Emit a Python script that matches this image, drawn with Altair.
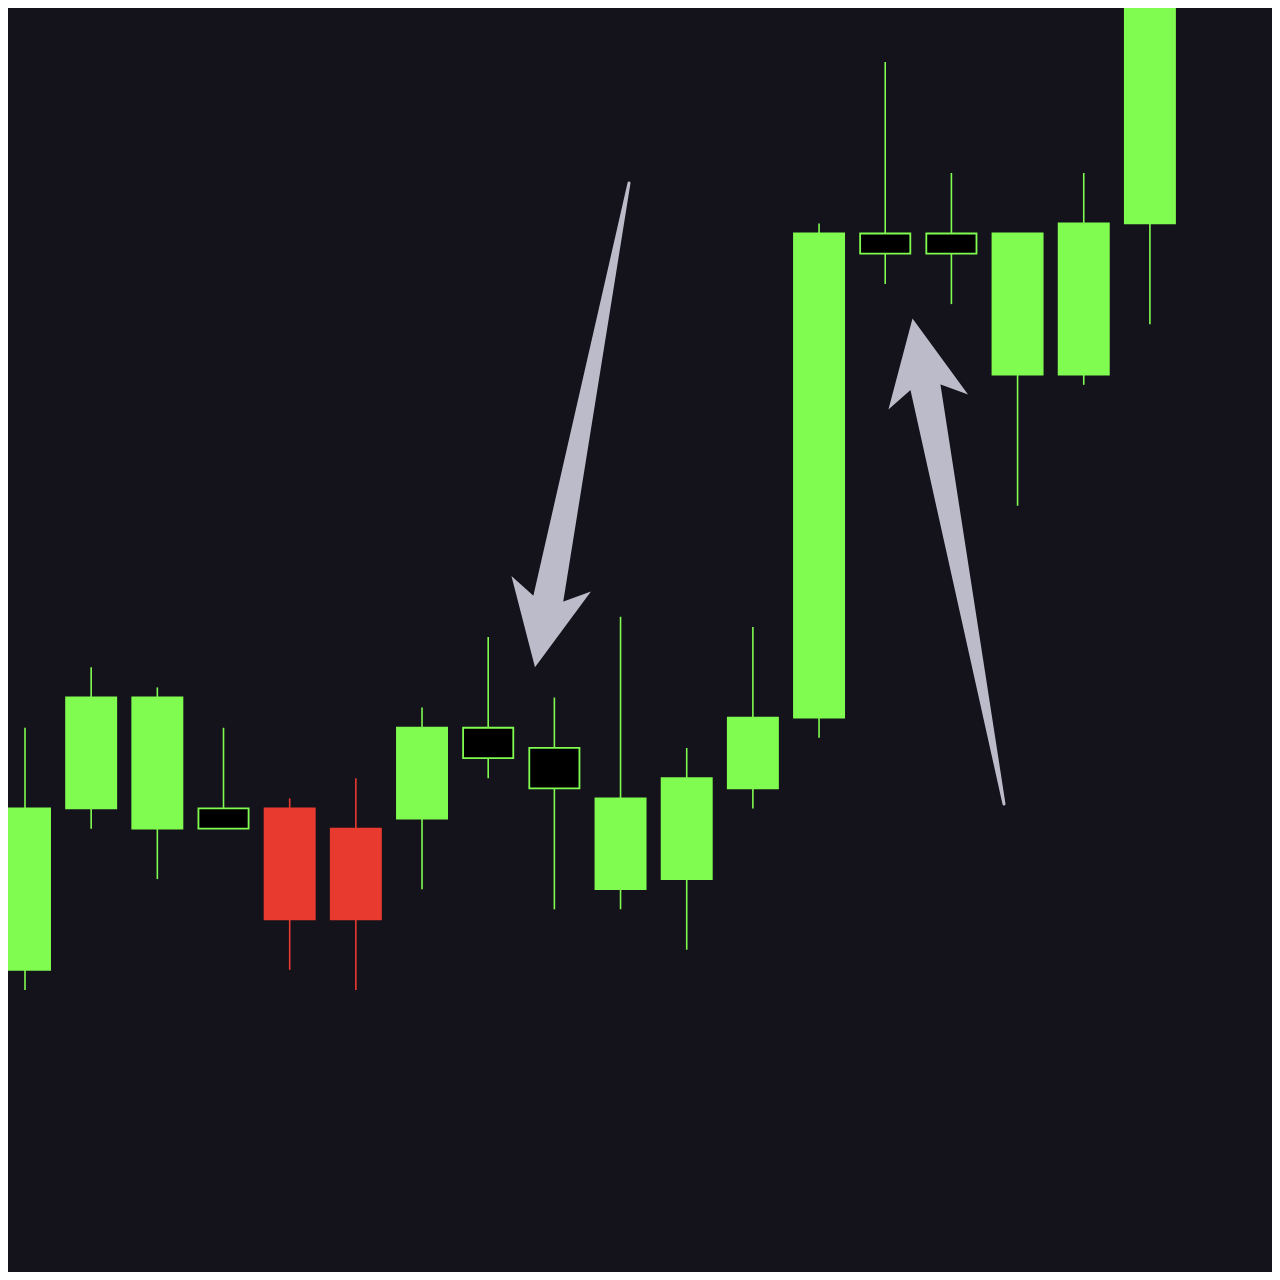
import math
import altair as alt
import pandas as pd

# ---------------- data ----------------
candle_idx = list(range(19))
opens  = [4, 20, 18, 20, 20, 18, 19, 28, 26, 12, 13, 22, 29, 77, 77, 63, 63, 78, 104]
closes = [20, 31, 31, 18, 9, 9, 28, 25, 22, 21, 23, 29, 77, 75, 75, 77, 78, 104, 112]
highs  = [28, 34, 32, 28, 21, 23, 30, 37, 31, 39, 26, 38, 78, 94, 83, 77, 83, 106, 115]
lows   = [2, 18, 13, 18, 4, 2, 12, 23, 10, 10, 6, 20, 27, 72, 70, 50, 62, 68, 100]
kinds  = ["up", "up", "up", "hollow", "down", "down", "up", "hollow", "hollow",
          "up", "up", "up", "up", "hollow", "hollow", "up", "up", "up", "up"]

# annotation arrows: tail -> tip (data coordinates)
arrow_ids    = ["a1", "a2"]
arrow_tail_x = [9.128, 14.795]
arrow_tail_y = [82.0, 20.44]
arrow_tip_x  = [7.707, 13.412]
arrow_tip_y  = [34.0, 68.57]

# ---------------- styles ----------------
W, H = 1264, 1264
XDOM = [-0.2569, 18.845]
YDOM = [-25.954, 99.356]
BG = "#14131b"
GREEN = "#80fc50"
RED = "#e93a2f"
HOLLOW_FILL = "#000000"
ARROW = "#bcbbc9"
HALF_BODY = 0.379
TAIL_W, SHAFT_W = 3, 31
HEAD_LEN, HEAD_HALF, NOTCH_BACK, NOTCH_HALF = 85.0, 40.5, 15.0, 15.5
HEAD_UNIT = 45.0  # px per symbol unit -> size = (2*HEAD_UNIT)**2

cdf = pd.DataFrame({
    "i": candle_idx, "open": opens, "close": closes,
    "high": highs, "low": lows, "kind": kinds,
})
cdf["left"] = cdf["i"] - HALF_BODY
cdf["right"] = cdf["i"] + HALF_BODY

sx = W / (XDOM[1] - XDOM[0])
sy = H / (YDOM[1] - YDOM[0])

shaft_rows, head_rows = [], []
for aid, tx, ty, hx, hy in zip(arrow_ids, arrow_tail_x, arrow_tail_y, arrow_tip_x, arrow_tip_y):
    dxp = (hx - tx) * sx
    dyp = -(hy - ty) * sy
    L = math.hypot(dxp, dyp)
    ux, uy = dxp / L, dyp / L

    def back(d):
        return hx - ux * d / sx, hy + uy * d / sy

    ex, ey = back(HEAD_LEN - NOTCH_BACK - 8)
    shaft_rows.append({"aid": aid, "seq": 0, "x": tx, "y": ty, "w": TAIL_W})
    shaft_rows.append({"aid": aid, "seq": 1, "x": ex, "y": ey, "w": SHAFT_W})
    cx, cy = back(HEAD_LEN / 2)
    ang = math.degrees(math.atan2(ux, -uy)) % 360
    head_rows.append({"aid": aid, "x": cx, "y": cy, "angle": ang})

sdf = pd.DataFrame(shaft_rows)
hdf = pd.DataFrame(head_rows)

h2 = HEAD_LEN / 2 / HEAD_UNIT
hw = HEAD_HALF / HEAD_UNIT
ny = (HEAD_LEN / 2 - NOTCH_BACK) / HEAD_UNIT
nx = NOTCH_HALF / HEAD_UNIT
HEAD_PATH = (f"M0,{-h2:.3f}L{hw:.3f},{h2:.3f}L{nx:.3f},{ny:.3f}"
             f"L{-nx:.3f},{ny:.3f}L{-hw:.3f},{h2:.3f}Z")

xs = alt.Scale(domain=XDOM, nice=False, zero=False)
ys = alt.Scale(domain=YDOM, nice=False, zero=False)

kind_dom = ["up", "down", "hollow"]

wicks = alt.Chart(cdf).mark_rule(strokeWidth=1.6, clip=True).encode(
    x=alt.X("i:Q", scale=xs, axis=None),
    y=alt.Y("low:Q", scale=ys, axis=None),
    y2="high:Q",
    color=alt.Color("kind:N", scale=alt.Scale(domain=kind_dom, range=[GREEN, RED, GREEN]), legend=None),
)

bodies = alt.Chart(cdf).mark_rect(strokeWidth=1.8, clip=True).encode(
    x=alt.X("left:Q", scale=xs, axis=None),
    x2="right:Q",
    y=alt.Y("open:Q", scale=ys, axis=None),
    y2="close:Q",
    fill=alt.Fill("kind:N", scale=alt.Scale(domain=kind_dom, range=[GREEN, RED, HOLLOW_FILL]), legend=None),
    stroke=alt.Stroke("kind:N", scale=alt.Scale(domain=kind_dom, range=[GREEN, RED, GREEN]), legend=None),
)

shafts = alt.Chart(sdf).mark_trail(color=ARROW, opacity=1, clip=True).encode(
    x=alt.X("x:Q", scale=xs, axis=None),
    y=alt.Y("y:Q", scale=ys, axis=None),
    size=alt.Size("w:Q", scale=None, legend=None),
    detail="aid:N",
    order="seq:Q",
)

heads = alt.Chart(hdf).mark_point(
    shape=HEAD_PATH, filled=True, size=(2 * HEAD_UNIT) ** 2,
    color=ARROW, opacity=1, strokeWidth=0, clip=True,
).encode(
    x=alt.X("x:Q", scale=xs, axis=None),
    y=alt.Y("y:Q", scale=ys, axis=None),
    angle=alt.Angle("angle:Q", scale=None),
)

chart = alt.layer(wicks, bodies, shafts, heads).properties(
    width=W, height=H, padding=0,
    autosize=alt.AutoSizeParams(type="none"),
    background=BG,
).configure_view(stroke=None)

chart.save("out.html", embed_options={"renderer": "svg", "actions": False})
